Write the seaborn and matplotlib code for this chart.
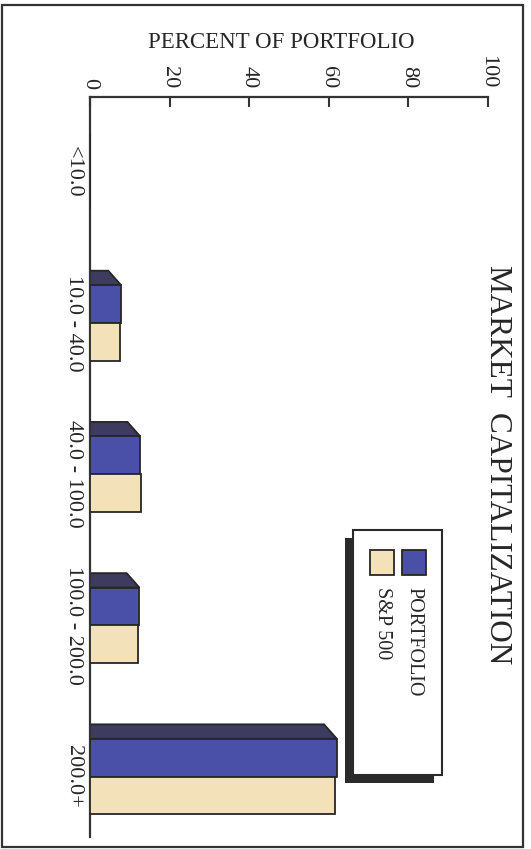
#!/usr/bin/env python3
import pandas as pd
import seaborn as sns
import matplotlib
matplotlib.use('Agg')
import matplotlib.pyplot as plt
from matplotlib.patches import Polygon, Rectangle

# Data.
categories = ["<10.0", "10.0 - 40.0", "40.0 - 100.0", "100.0 - 200.0", "200.0+"]
series = ["PORTFOLIO", "S&P 500"]
portfolio = [0.0, 7.8, 12.6, 12.4, 62.0]
sp500 = [0.0, 7.6, 12.7, 12.1, 61.5]
value_ticks = [0, 20, 40, 60, 80, 100]
axis_title = "PERCENT OF PORTFOLIO"
chart_title = "MARKET  CAPITALIZATION"

colors = {"PORTFOLIO": "#4a4fa8", "S&P 500": "#f3e1b9"}
top_face = "#3d3c60"
edge = "#262626"

df = pd.DataFrame({
    "category": categories * 2,
    "series": [series[0]] * len(categories) + [series[1]] * len(categories),
    "value": portfolio + sp500,
})

W, H, DPI = 531, 849, 100
sns.set_style("white")
plt.rcParams['font.family'] = ['Liberation Serif', 'DejaVu Serif']

fig = plt.figure(figsize=(W / DPI, H / DPI), dpi=DPI)
ax = fig.add_axes([90 / W, 1 - 837 / H, 398 / W, 740 / H])

sns.barplot(data=df, x="value", y="category", hue="series",
            order=categories, hue_order=series, palette=colors,
            orient="h", width=0.5, saturation=1, edgecolor=edge, linewidth=1.3,
            legend=False, ax=ax, zorder=3)

# 3D depth face on top of the portfolio bars.
depth, slant = 0.095, 3.2
for bar in ax.containers[0]:
    w = bar.get_width()
    if w <= 0:
        continue
    yt = bar.get_y()
    ax.add_patch(Polygon([(0, yt), (w, yt), (w - slant, yt - depth), (0, yt - depth)],
                         closed=True, facecolor=top_face, edgecolor=edge,
                         linewidth=1.3, zorder=2, clip_on=False))

ax.set_xlim(0, 100)
ax.set_ylim(4.4, -0.494)
ax.xaxis.tick_top()
ax.set_xticks(value_ticks)
ax.set_xticklabels([str(v) for v in value_ticks], rotation=270, fontsize=16)
ax.tick_params(axis="x", direction="in", length=7, width=1.5, color="#333333", pad=6)
ax.tick_params(axis="y", length=0, pad=5, labelsize=16)
for lab in ax.get_yticklabels():
    lab.set_rotation(270)
    lab.set_va("center")
ax.set_ylabel("")
ax.set_xlabel(axis_title, fontsize=16.5)
ax.xaxis.set_label_position("top")
ax.xaxis.set_label_coords((281 - 90) / 398, 1 + (97 - 48) / 740)

for side in ["right", "bottom"]:
    ax.spines[side].set_visible(False)
for side in ["top", "left"]:
    ax.spines[side].set_linewidth(1.6)
    ax.spines[side].set_color("#333333")
ax.grid(False)

# Title, rotated like the rest of the scan.
fig.text(497 / W, 1 - 465 / H, chart_title, rotation=270, fontsize=22.5,
         ha="center", va="center")

# Legend with drop shadow, drawn in figure pixels.
def px_rect(x0, y0, x1, y1, **kw):
    fig.patches.append(Rectangle((x0 / W, 1 - y1 / H), (x1 - x0) / W, (y1 - y0) / H,
                                 transform=fig.transFigure, **kw))

px_rect(345, 538, 434, 783, facecolor="#2a2a2a", edgecolor="none", zorder=5)
px_rect(353, 530, 442, 775, facecolor="white", edgecolor="#2a2a2a", linewidth=1.5, zorder=6)
for name, xc in zip(series, [414, 382]):
    px_rect(xc - 12, 550, xc + 12, 575, facecolor=colors[name], edgecolor=edge,
            linewidth=1.3, zorder=7)
    fig.text(xc / W, 1 - 587 / H, name, rotation=270, fontsize=14.5,
             ha="center", va="top", zorder=8)

# Outer frame of the page.
px_rect(2, 5, 523, 847, facecolor="none", edgecolor="#333333", linewidth=1.6, zorder=1)

fig.savefig("out.png", dpi=DPI)
plt.close()
